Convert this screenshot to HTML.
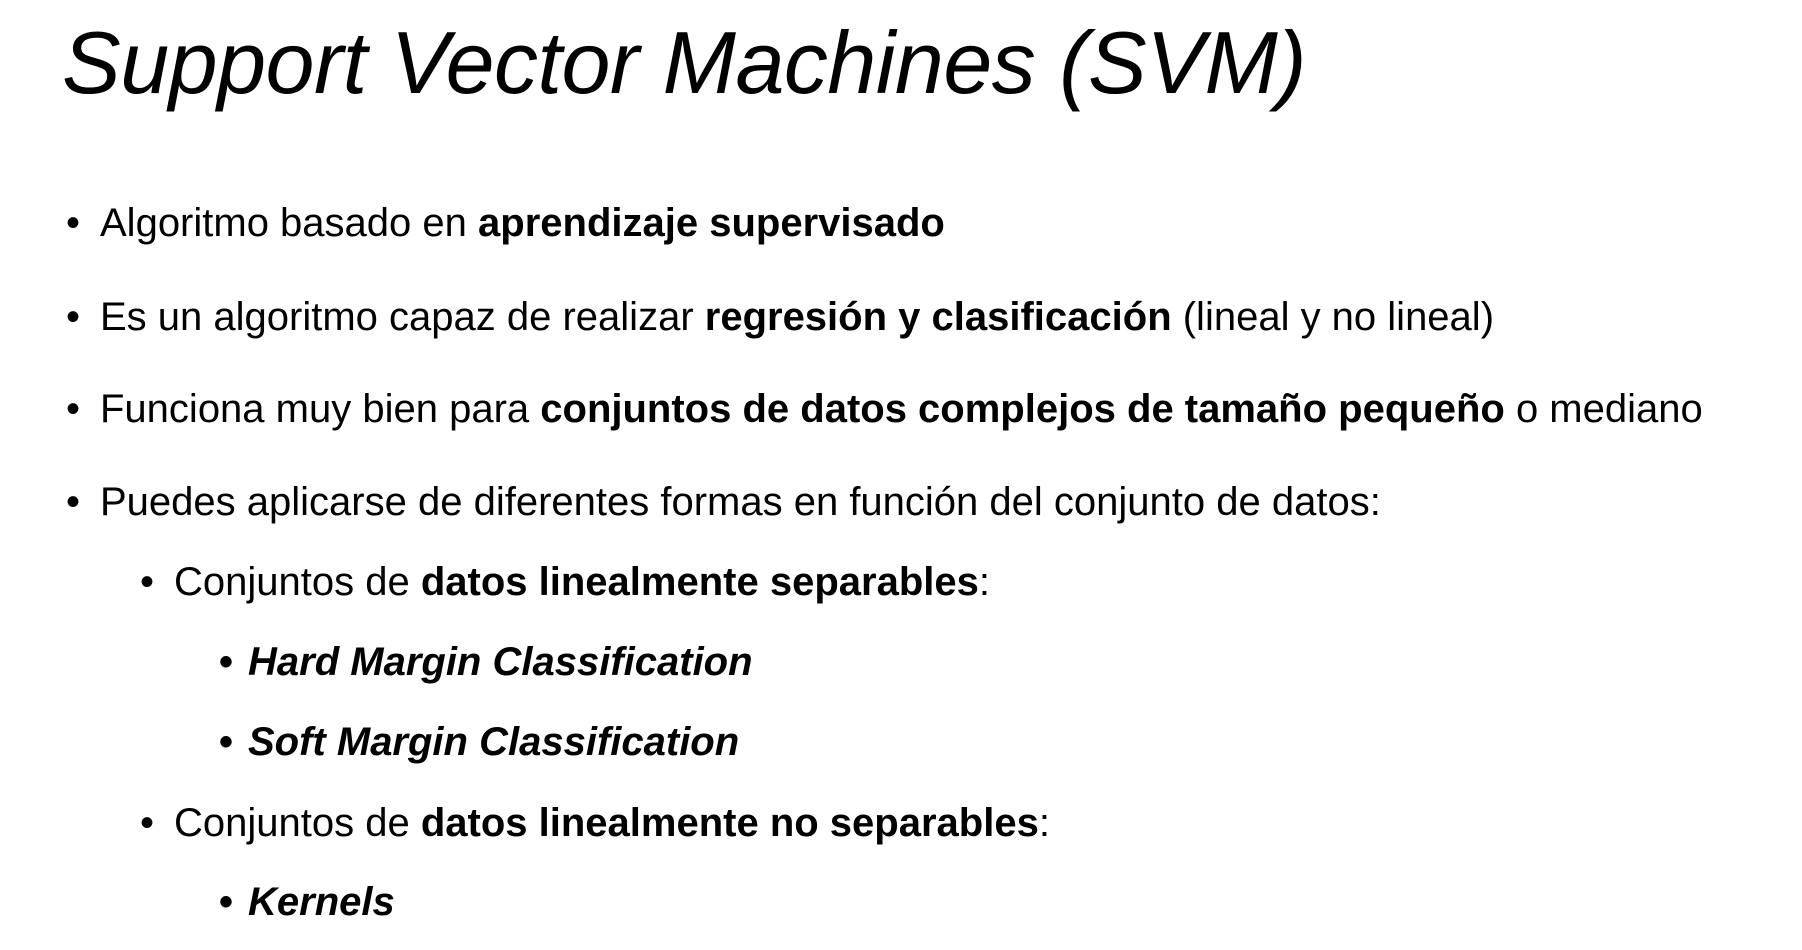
<!DOCTYPE html>
<html><head><meta charset="utf-8"><style>
body{margin:0;width:1802px;height:950px;background:#fff;overflow:hidden;font-family:"Liberation Sans",Arial,sans-serif;color:#000}
.t{position:absolute;left:62px;top:12px;font-size:88px;font-style:italic;font-weight:500;white-space:nowrap;letter-spacing:-0.5px}
.l{position:absolute;font-size:40px;white-space:nowrap;line-height:44px}
.d{position:absolute;font-size:40px;line-height:44px}
</style></head><body>
<div class="t">Support Vector Machines (SVM)</div>

<div class="d" style="left:66px;top:201px">•</div>
<div class="l" style="left:100px;top:201px">Algoritmo basado en <b>aprendizaje supervisado</b></div>

<div class="d" style="left:66px;top:295px">•</div>
<div class="l" style="left:100px;top:295px">Es un algoritmo capaz de realizar <b>regresión y clasificación</b> (lineal y no lineal)</div>

<div class="d" style="left:66px;top:387px">•</div>
<div class="l" style="left:100px;top:387px">Funciona muy bien para <b>conjuntos de datos complejos de tamaño pequeño</b> o mediano</div>

<div class="d" style="left:66px;top:480px">•</div>
<div class="l" style="left:100px;top:480px">Puedes aplicarse de diferentes formas en función del conjunto de datos:</div>

<div class="d" style="left:140px;top:560px">•</div>
<div class="l" style="left:174px;top:560px">Conjuntos de <b>datos linealmente separables</b>:</div>

<div class="d" style="left:219px;top:640px"><b>•</b></div>
<div class="l" style="left:248px;top:640px"><b><i>Hard Margin Classification</i></b></div>

<div class="d" style="left:219px;top:720px"><b>•</b></div>
<div class="l" style="left:248px;top:720px"><b><i>Soft Margin Classification</i></b></div>

<div class="d" style="left:140px;top:801px">•</div>
<div class="l" style="left:174px;top:801px">Conjuntos de <b>datos linealmente no separables</b>:</div>

<div class="d" style="left:219px;top:880px"><b>•</b></div>
<div class="l" style="left:248px;top:880px"><b><i>Kernels</i></b></div>
</body></html>
